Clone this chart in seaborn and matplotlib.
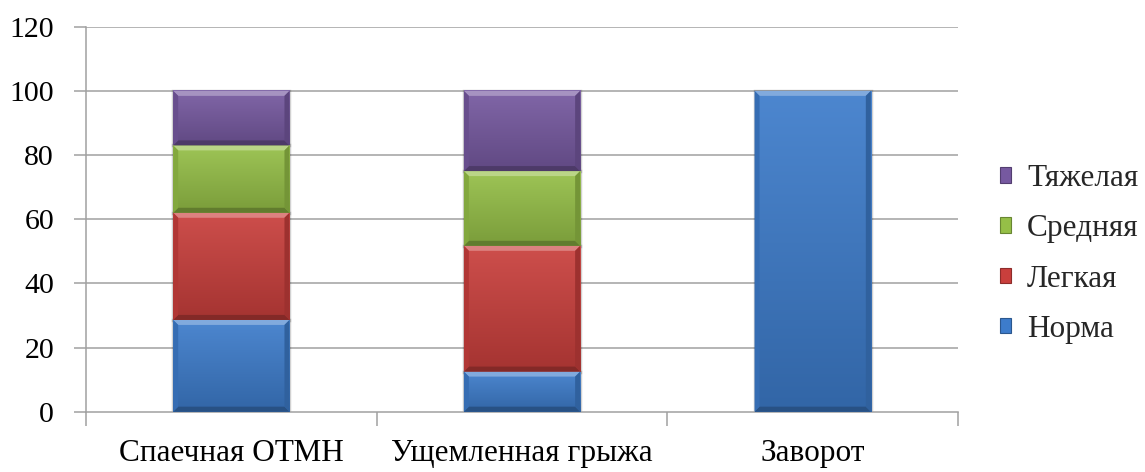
import os
import numpy as np
import matplotlib
matplotlib.use("Agg")
import matplotlib.pyplot as plt
import seaborn as sns
from matplotlib import font_manager as fm
from matplotlib.font_manager import FontProperties
from matplotlib.patches import Polygon, Rectangle
from matplotlib.colors import to_rgb

# Shares of severity grades (%) per diagnosis
categories = ["Спаечная ОТМН", "Ущемленная грыжа", "Заворот"]
norma = [28.6, 12.5, 100.0]
legkaya = [33.4, 39.2, 0.0]
srednyaya = [21.0, 23.3, 0.0]
tyazhelaya = [17.0, 25.0, 0.0]
series_names = ["Норма", "Легкая", "Средняя", "Тяжелая"]
y_ticks = [0, 20, 40, 60, 80, 100, 120]

base_colors = ["#3d7ccb", "#c93f3c", "#95bf47", "#7659a0"]

sns.set_theme(style="white")

serif_path = "/usr/share/fonts/truetype/liberation/LiberationSerif-Regular.ttf"
if not os.path.exists(serif_path):
    serif_path = fm.findfont(FontProperties(family="Liberation Serif"))
fm.fontManager.addfont(serif_path)
serif_name = FontProperties(fname=serif_path).get_name()
plt.rcParams["font.family"] = [serif_name, "DejaVu Serif"]


def serif(size):
    return FontProperties(fname=serif_path, size=size)


def shade(color, f):
    c = np.array(to_rgb(color))
    if f >= 0:
        return tuple(c + (1 - c) * f)
    return tuple(c * (1 + f))


fig = plt.figure(figsize=(11.45, 4.72), dpi=100)
ax = fig.add_axes([0.0751, 0.1278, 0.7616, 0.8156])

series_values = [norma, legkaya, srednyaya, tyazhelaya]
bottom = np.zeros(len(categories))
for name, vals, col in zip(series_names, series_values, base_colors):
    sns.barplot(x=categories, y=vals, bottom=bottom.copy(), color=col,
                width=0.4, saturation=1, ax=ax, linewidth=0, zorder=3)
    bottom += np.array(vals)

ax.set_ylim(0, 120)
ax.set_xlim(-0.5, len(categories) - 0.5)

# bevelled, shaded face for every segment
fig.canvas.draw()
to_px = ax.transData.transform
to_data = ax.transData.inverted().transform
color_cycle = []
for col, vals in zip(base_colors, series_values):
    color_cycle += [col for v in vals]
b = 5.0
for p, col in zip(list(ax.patches), color_cycle):
    if p.get_height() <= 0:
        continue
    x0, y0 = p.get_x(), p.get_y()
    x1, y1 = x0 + p.get_width(), y0 + p.get_height()
    (px0, py0), (px1, py1) = to_px([(x0, y0), (x1, y1)])
    ax.add_patch(Rectangle((x0, y0), x1 - x0, y1 - y0, facecolor="none",
                           edgecolor=(0, 0, 0, 0.18), linewidth=2.5, zorder=2.5))
    grad = np.linspace(0, 1, 64)[:, None]
    top_c = np.array(shade(col, 0.08))
    bot_c = np.array(shade(col, -0.18))
    img = top_c[None, None, :] * (1 - grad[:, :, None]) + bot_c[None, None, :] * grad[:, :, None]
    ax.imshow(img, extent=(x0, x1, y0, y1), origin="upper", aspect="auto",
              interpolation="bilinear", zorder=4)
    (ix0, iy0), (ix1, iy1) = to_data([(px0 + b, py0 + b), (px1 - b, py1 - b)])
    faces = [
        ([(x0, y1), (x1, y1), (ix1, iy1), (ix0, iy1)], shade(col, 0.35)),
        ([(x0, y0), (x1, y0), (ix1, iy0), (ix0, iy0)], shade(col, -0.35)),
        ([(x0, y0), (x0, y1), (ix0, iy1), (ix0, iy0)], shade(col, -0.12)),
        ([(x1, y0), (x1, y1), (ix1, iy1), (ix1, iy0)], shade(col, -0.22)),
    ]
    for pts, fc in faces:
        ax.add_patch(Polygon(pts, closed=True, facecolor=fc, edgecolor="none", zorder=5))

ax.set_ylim(0, 120)
ax.set_xlim(-0.5, len(categories) - 0.5)

grid_c = "#a0a0a0"
ax.set_yticks(y_ticks)
ax.set_yticklabels([str(t) for t in y_ticks])
for t in y_ticks[1:]:
    ax.axhline(t, color=grid_c, linewidth=1.1, zorder=1)
ax.tick_params(axis="y", direction="out", length=9, width=1.1, color=grid_c,
               pad=14, labelcolor="black", left=True)
ax.set_xticks(range(len(categories)))
ax.set_xticklabels(categories)
ax.set_xticks([-0.5 + i for i in range(len(categories) + 1)], minor=True)
ax.tick_params(axis="x", which="major", length=0, pad=20, labelcolor="black")
ax.tick_params(axis="x", which="minor", direction="out", length=10, width=1.1,
               color=grid_c, bottom=True)
for lbl in ax.get_yticklabels():
    lbl.set_fontproperties(serif(21.5))
for lbl in ax.get_xticklabels():
    lbl.set_fontproperties(serif(22.5))
for s in ["top", "right"]:
    ax.spines[s].set_visible(False)
for s in ["left", "bottom"]:
    ax.spines[s].set_color(grid_c)
    ax.spines[s].set_linewidth(1.1)
ax.set_xlabel("")
ax.set_ylabel("")
ax.set_facecolor("white")

handles = [Rectangle((0, 0), 1, 1, facecolor=c, edgecolor=shade(c, -0.3), linewidth=0.8)
           for c in base_colors]
leg = fig.legend(handles[::-1], series_names[::-1], loc="center left",
                 bbox_to_anchor=(0.873, 0.462), frameon=False,
                 prop=serif(22.5),
                 handlelength=0.38, handleheight=0.38, handletextpad=0.5,
                 labelspacing=0.68, borderaxespad=0, borderpad=0)

fig.savefig("out.png", dpi=100, facecolor="white")
